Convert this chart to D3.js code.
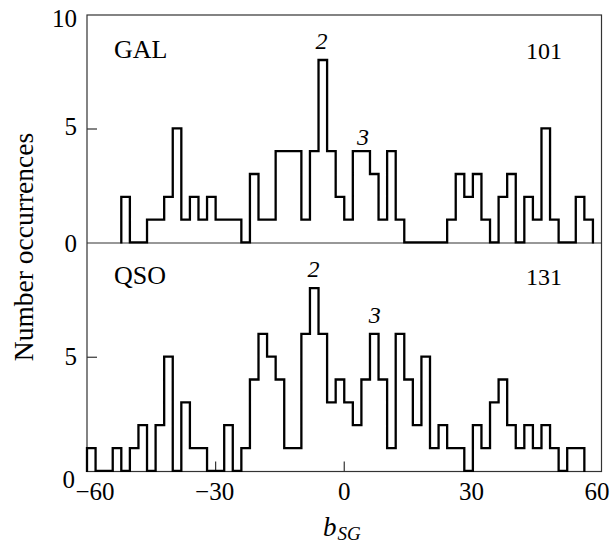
<!DOCTYPE html>
<html>
<head>
<meta charset="utf-8">
<script src="https://cdn.jsdelivr.net/npm/d3@7/dist/d3.min.js"></script>
<style>
  html, body { margin: 0; padding: 0; background: #fff; }
  svg { display: block; }
  text { font-family: "Liberation Serif", "Times New Roman", serif; fill: #000; }
</style>
</head>
<body>
<svg id="chart" width="616" height="546"></svg>
<script>
// Left edges of the 2-unit b_SG bins
const binEdges = [-60, -58, -56, -54, -52, -50, -48, -46, -44, -42,
                  -40, -38, -36, -34, -32, -30, -28, -26, -24, -22,
                  -20, -18, -16, -14, -12, -10, -8, -6, -4, -2,
                  0, 2, 4, 6, 8, 10, 12, 14, 16, 18,
                  20, 22, 24, 26, 28, 30, 32, 34, 36, 38,
                  40, 42, 44, 46, 48, 50, 52, 54, 56, 58];
const binWidth = 2;

// Galaxy counts per bin (total 101)
const galCounts = [0, 0, 0, 0, 2, 0, 0, 1, 1, 2,
                   5, 1, 2, 1, 2, 1, 1, 1, 0, 3,
                   1, 1, 4, 4, 4, 1, 4, 8, 4, 2,
                   1, 4, 4, 3, 1, 4, 1, 0, 0, 0,
                   0, 0, 1, 3, 2, 3, 1, 0, 2, 3,
                   0, 2, 1, 5, 1, 0, 0, 2, 1, 0];

// QSO counts per bin (total 131)
const qsoCounts = [1, 0, 0, 1, 0, 1, 2, 0, 2, 5,
                   0, 3, 1, 1, 0, 0, 2, 0, 1, 4,
                   6, 5, 4, 1, 1, 6, 8, 6, 3, 4,
                   3, 2, 4, 6, 4, 1, 6, 4, 2, 5,
                   1, 2, 1, 1, 0, 2, 1, 3, 4, 2,
                   1, 2, 1, 2, 1, 0, 1, 1, 0, 0];

const panelNames = ["GAL", "QSO"];
const panelTotals = ["101", "131"];
// Italic peak markers: [b_SG position, count height]
const galPeaks = [{ label: "2", x: -5.3, v: 8.5 }, { label: "3", x: 4.4, v: 4.3 }];
const qsoPeaks = [{ label: "2", x: -7.2, v: 8.5 }, { label: "3", x: 7.1, v: 6.5 }];

const xTicks = [-60, -30, 0, 30, 60];
const yTicks = [0, 5, 10];

const svg = d3.select("#chart");
const x = d3.scaleLinear().domain([-60, 60]).range([87, 601.5]);
const yTop = d3.scaleLinear().domain([0, 10]).range([243, 15]);
const yBot = d3.scaleLinear().domain([0, 10]).range([471.5, 243]);

const frame = "#333";

// Step outline running from the first to the last non-empty bin
function stepPoints(counts) {
  const first = counts.findIndex(c => c > 0);
  let last = counts.length - 1;
  while (counts[last] === 0) last--;
  const pts = [[binEdges[first], 0]];
  for (let i = first; i <= last; i++) {
    pts.push([binEdges[i], counts[i]]);
    pts.push([binEdges[i] + binWidth, counts[i]]);
  }
  pts.push([binEdges[last] + binWidth, 0]);
  return pts;
}

function drawHist(counts, y) {
  const line = d3.line().x(d => x(d[0])).y(d => y(d[1]) - 0.6);
  svg.append("path")
    .attr("d", line(stepPoints(counts)))
    .attr("fill", "none")
    .attr("stroke", "#000")
    .attr("stroke-width", 2.3)
    .attr("stroke-linejoin", "miter")
    .attr("stroke-linecap", "square");
}

// Frame and panel divider
svg.append("rect")
  .attr("x", x(-60)).attr("y", yTop(10))
  .attr("width", x(60) - x(-60)).attr("height", yBot(0) - yTop(10))
  .attr("fill", "none").attr("stroke", frame).attr("stroke-width", 1.2);
svg.append("line")
  .attr("x1", x(-60)).attr("x2", x(60))
  .attr("y1", yTop(0)).attr("y2", yTop(0))
  .attr("stroke", frame).attr("stroke-width", 1.2);

// Inward y ticks at 5 in both panels
[yTop, yBot].forEach(y => {
  svg.append("line")
    .attr("x1", x(-60)).attr("x2", x(-60) + 10)
    .attr("y1", y(5)).attr("y2", y(5))
    .attr("stroke", frame).attr("stroke-width", 1.2);
});

// Inward x ticks on the bottom axis
svg.selectAll(".xtick").data(xTicks.filter(t => t > -60 && t < 60)).enter()
  .append("line")
  .attr("x1", d => x(d)).attr("x2", d => x(d))
  .attr("y1", yBot(0)).attr("y2", yBot(0) - 10)
  .attr("stroke", frame).attr("stroke-width", 1.2);

drawHist(galCounts, yTop);
drawHist(qsoCounts, yBot);

// Y tick labels
const yLabelShift = { top: { 0: 8.5, 5: 6, 10: 11.5 }, bot: { 0: 16, 5: 7.5, 10: 0 } };
yTicks.forEach(t => {
  svg.append("text")
    .attr("x", 77).attr("y", yTop(t) + yLabelShift.top[t])
    .attr("text-anchor", "end").attr("font-size", 25)
    .text(t);
});
yTicks.filter(t => t < 10).forEach(t => {
  svg.append("text")
    .attr("x", t === 0 ? 75 : 77).attr("y", yBot(t) + yLabelShift.bot[t])
    .attr("text-anchor", "end").attr("font-size", 25)
    .text(t);
});

// X tick labels
const xLabelShift = { "-60": 8, "-30": -1, "0": 0, "30": -1.5, "60": -4.5 };
xTicks.forEach(t => {
  svg.append("text")
    .attr("x", x(t) + xLabelShift[t]).attr("y", 500)
    .attr("text-anchor", "middle").attr("font-size", 25)
    .text(t < 0 ? "\u2212" + Math.abs(t) : t);
});

// Panel labels and totals
[[yTop, 0], [yBot, 1]].forEach(([y, i]) => {
  svg.append("text")
    .attr("x", 114).attr("y", y(10) + (i === 0 ? 42.5 : 40.5))
    .attr("font-size", 26).text(panelNames[i]);
  svg.append("text")
    .attr("x", 562).attr("y", y(10) + (i === 0 ? 44 : 42))
    .attr("text-anchor", "end").attr("font-size", 24).text(panelTotals[i]);
});

// Peak markers
[[galPeaks, yTop], [qsoPeaks, yBot]].forEach(([peaks, y]) => {
  peaks.forEach(p => {
    svg.append("text")
      .attr("x", x(p.x)).attr("y", y(p.v))
      .attr("text-anchor", "middle").attr("font-size", 24)
      .attr("font-style", "italic").text(p.label);
  });
});

// Axis titles
svg.append("text")
  .attr("transform", "translate(33,247) rotate(-90)")
  .attr("text-anchor", "middle").attr("font-size", 27.5)
  .text("Number occurrences");

const xt = svg.append("text")
  .attr("x", 323).attr("y", 536)
  .attr("font-size", 27).attr("font-style", "italic");
xt.append("tspan").text("b");
xt.append("tspan").attr("dy", 4).attr("dx", 1).attr("font-size", 19).text("SG");
</script>
</body>
</html>
